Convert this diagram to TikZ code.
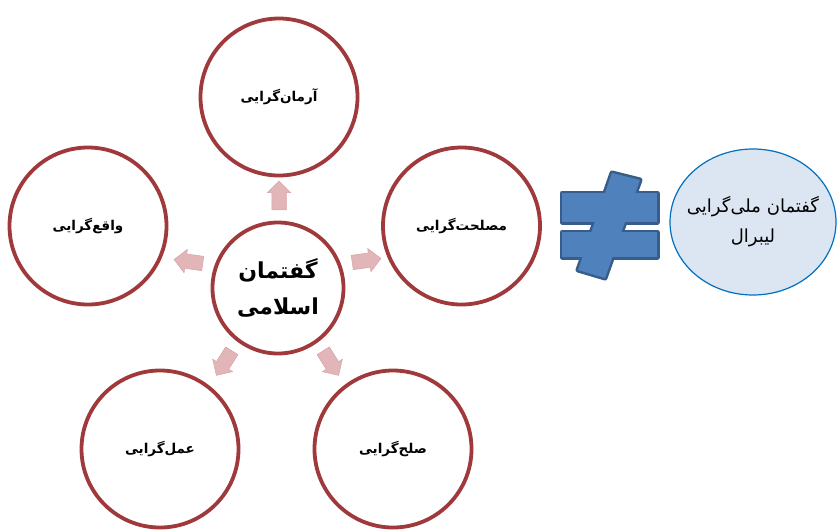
\documentclass[tikz,border=0pt]{standalone}
\usepackage{fontspec}
\usetikzlibrary{shapes.arrows,shapes.geometric}
\TeXXeTstate=1
\newfontfamily\arabicfont[Script=Arabic]{DejaVu Sans}
\definecolor{circred}{HTML}{A0393C}
\definecolor{arrpink}{HTML}{E2B6B9}
\definecolor{arrpinkd}{HTML}{D6A2A6}
\definecolor{neqfill}{HTML}{4F81BD}
\definecolor{neqline}{HTML}{385D8A}
\definecolor{ellfill}{HTML}{DCE6F2}
\definecolor{ellline}{HTML}{0070C0}
\tikzset{
  bigcirc/.style={circle, draw=circred, line width=3.8pt, fill=white, minimum size=157pt, inner sep=0pt, font=\arabicfont\bfseries\fontsize{13.5}{16}\selectfont, align=center},
  midcirc/.style={circle, draw=circred, line width=3.8pt, fill=white, minimum size=131pt, inner sep=0pt, font=\arabicfont\bfseries\fontsize{22}{36}\selectfont, align=center},
  blockarr/.style={single arrow, fill=arrpink, draw=arrpinkd, line width=0.5pt, minimum height=29pt, inner sep=7pt, single arrow head extend=4.5pt, single arrow tip angle=90},
  neqpart/.style={draw=neqline, line width=5pt, line join=round, fill=neqfill},
  neqin/.style={fill=neqfill},
  ellnode/.style={ellipse, draw=ellline, line width=1.2pt, fill=ellfill, minimum width=166pt, minimum height=146pt, inner sep=0pt},
  elltext/.style={align=center, inner sep=0pt, font=\arabicfont\fontsize{18}{30}\selectfont},
}
\begin{document}
\begin{tikzpicture}[x=1pt,y=-1pt]
\useasboundingbox (0,0) rectangle (838,531);
% outer circles
\node[bigcirc] (top) at (279,97) {\beginR آرمان‌گرایی\endR};
\node[bigcirc] (right) at (461.5,226) {\beginR مصلحت‌گرایی\endR};
\node[bigcirc] (left) at (88,226) {\beginR واقع‌گرایی\endR};
\node[bigcirc] (bl) at (160,449) {\beginR عمل‌گرایی\endR};
\node[bigcirc] (br) at (393,449) {\beginR صلح‌گرایی\endR};
\node[midcirc] (mid) at (278,288) {\beginR گفتمان\endR\\\beginR اسلامی\endR};
% arrows
\node[blockarr, rotate=90] (aup) at (279,199) {};
\node[blockarr, rotate=172] (aleft) at (192,262) {};
\node[blockarr, rotate=8] (aright) at (363,261) {};
\node[blockarr, rotate=238] (abl) at (226,360) {};
\node[blockarr, rotate=-58] (abr) at (329,360) {};
% not-equal sign
\coordinate (neq) at (610,225);
\path[neqpart] (562,193) rectangle (657,222);
\path[neqpart] (562,232) rectangle (657,257);
\path[neqpart] (612,173) -- (640,180) -- (605,278) -- (578,270) -- cycle;
\path[neqin] (562,193) rectangle (657,222);
\path[neqin] (562,232) rectangle (657,257);
\path[neqin] (612,173) -- (640,180) -- (605,278) -- (578,270) -- cycle;
% ellipse
\node[ellnode] (ell) at (753,222) {};
\node[elltext] (elltxt) at (ell.center) {\beginR گفتمان ملی‌گرایی\endR\\\beginR لیبرال\endR};
\end{tikzpicture}
\end{document}
